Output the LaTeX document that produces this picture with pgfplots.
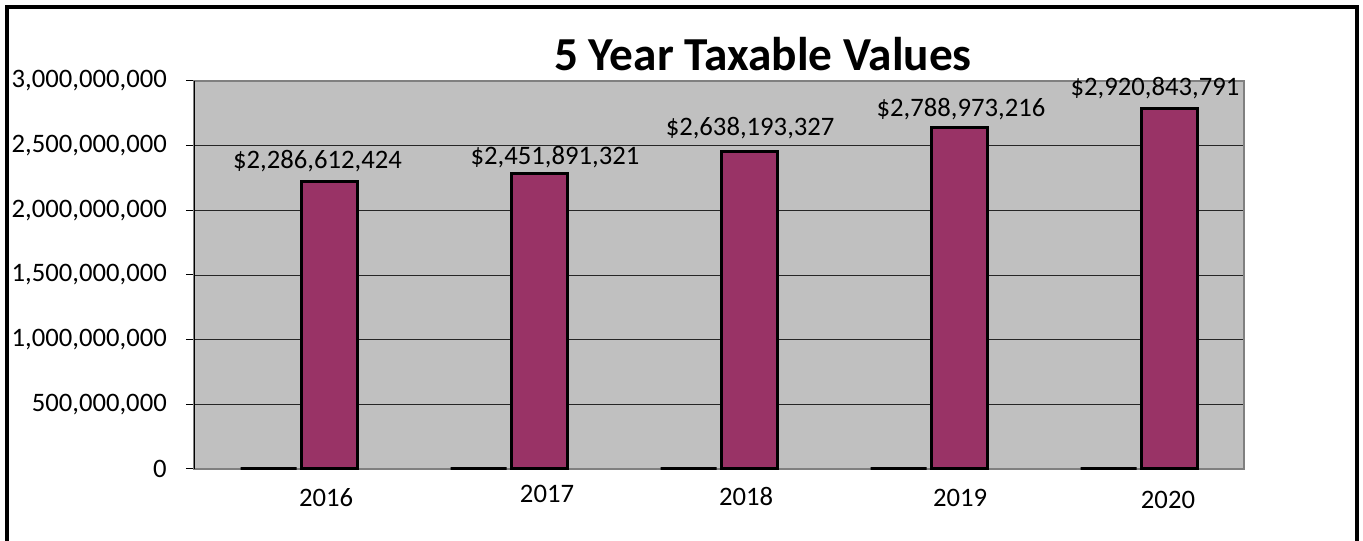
\documentclass[border=0pt]{standalone}
\usepackage{pgfplots}
\usepackage{pgfplotstable}
\pgfplotsset{compat=1.18}
\usepackage{fontspec}
\setmainfont{Carlito}

\definecolor{plum}{RGB}{153,51,102}
\definecolor{plotgray}{RGB}{192,192,192}
\definecolor{framegray}{RGB}{128,128,128}

% bar heights as drawn (each bar sits one label behind)
\pgfplotstableread{
x val
0 2220000000
1 2286612424
2 2451891321
3 2638193327
4 2788973216
}\taxvals

\pgfplotstableread{
x val
0 0
1 0
2 0
3 0
4 0
}\zerovals

% data labels, placed where they stand in the chart
\pgfplotstableread{
x y label
0.088 2378000000 \$2,286,612,424
1.219 2412000000 \$2,451,891,321
2.148 2637000000 \$2,638,193,327
3.152 2784000000 \$2,788,973,216
4.076 2942000000 \$2,920,843,791
}\labelvals

\begin{document}
\begin{tikzpicture}
\path[use as bounding box] (0,0) rectangle (1022.25pt,405.75pt);
\draw[line width=3pt] (5.25pt,0) -- (5.25pt,400.5pt) -- (1017.75pt,400.5pt) -- (1017.75pt,0);

\begin{axis}[
    at={(145.5pt,54pt)}, anchor=south west,
    width=787.5pt, height=291pt, scale only axis,
    clip=false,
    xmin=-0.5, xmax=4.5,
    ymin=0, ymax=3000000000,
    scaled y ticks=false,
    axis background/.style={fill=plotgray},
    axis line style={draw=framegray, line width=1.5pt},
    ymajorgrids,
    grid style={black!85, line width=0.7pt},
    ytick={0,500000000,1000000000,1500000000,2000000000,2500000000,3000000000},
    yticklabels={0,{500,000,000},{1,000,000,000},{1,500,000,000},{2,000,000,000},{2,500,000,000},{3,000,000,000}},
    ytick pos=left,
    tick align=outside,
    major tick length=6pt,
    ytick style={black, line width=0.75pt},
    yticklabel style={anchor=east, inner sep=0pt, xshift=-14.25pt, font=\fontsize{20}{24}\selectfont},
    xtick={0.129,1.181,2.129,3.148,4.138},
    xticklabels={2016,\raisebox{3pt}{2017},\raisebox{0.75pt}{2018},2019,\raisebox{-1.5pt}{2020}},
    xtick style={draw=none},
    xticklabel style={anchor=base, inner sep=0pt, yshift=-22.5pt, font=\fontsize{20}{24}\selectfont},
    title={5 Year Taxable Values},
    title style={at={(0.5,1)}, anchor=base, yshift=1.5pt, xshift=33pt, inner sep=0pt, font=\bfseries\fontsize{35.5}{40}\selectfont},
    after end axis/.code={\draw[black, line width=0.75pt] (rel axis cs:0,0) -- (rel axis cs:0,1);},
]
\addplot[ybar, bar width=0.267, bar shift=-0.145, draw=black, line width=2.25pt, fill=black] table[x=x, y=val] {\zerovals};
\addplot[ybar, bar width=0.267, bar shift=0.145, draw=black, line width=2.25pt, fill=plum] table[x=x, y=val] {\taxvals};
\addplot[only marks, mark=none, point meta=explicit symbolic,
    nodes near coords,
    every node near coord/.append style={anchor=center, inner sep=0pt, font=\fontsize{20}{24}\selectfont}]
    table[x=x, y=y, meta=label] {\labelvals};
\end{axis}
\end{tikzpicture}
\end{document}
